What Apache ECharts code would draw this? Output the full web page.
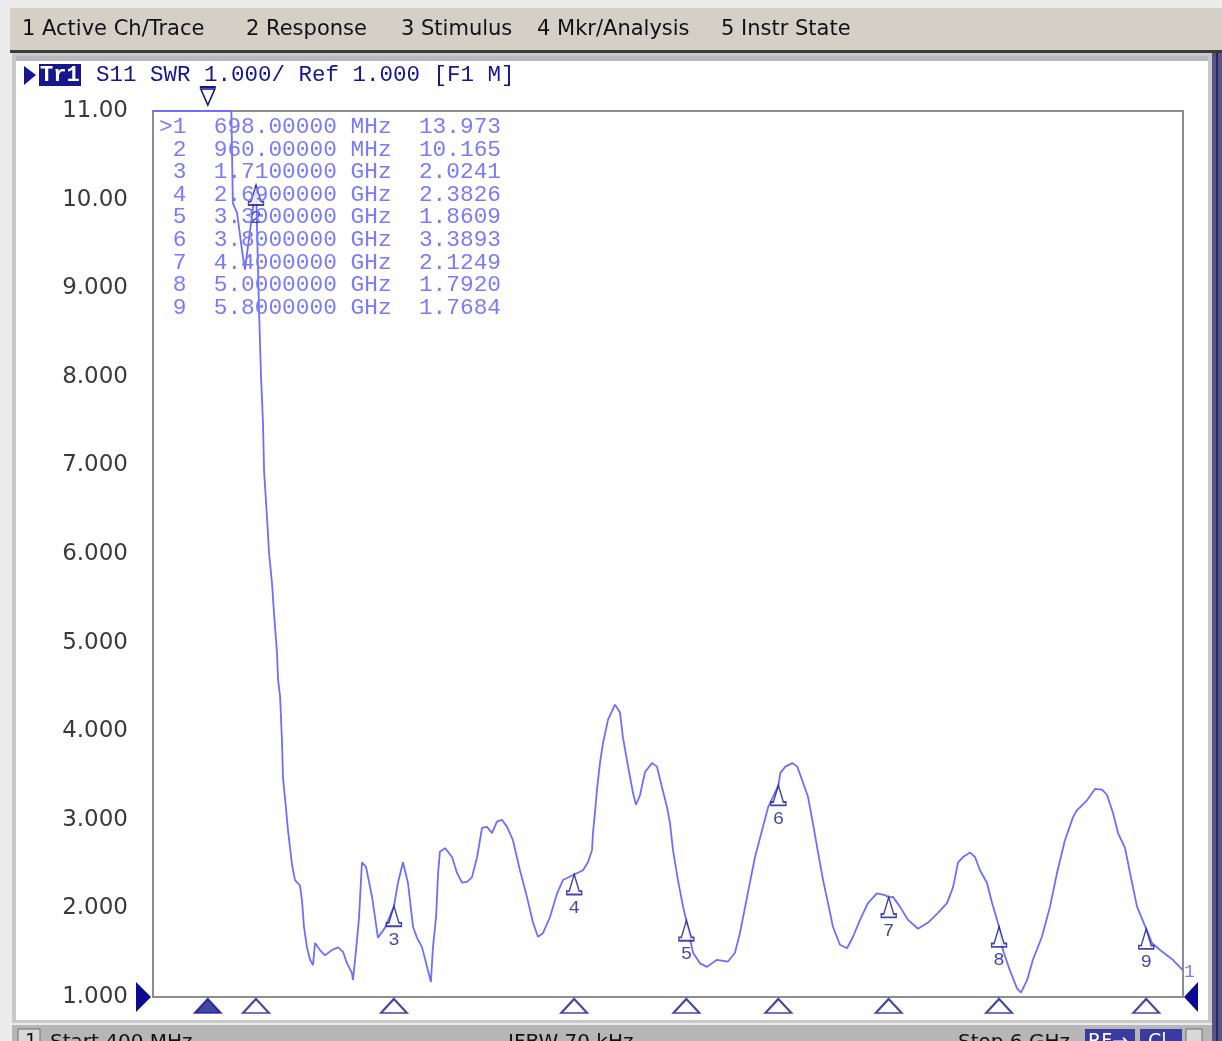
<!DOCTYPE html>
<html><head><meta charset="utf-8">
<script src="https://cdn.jsdelivr.net/npm/echarts@6/dist/echarts.min.js"></script>
<style>html,body{margin:0;padding:0;background:#ececec;overflow:hidden}#c{width:1222px;height:1041px}</style>
</head><body><div id="c"></div>
<script>
// ---- axis settings ----
const START_MHZ = 400, STOP_MHZ = 6000, DIV_MHZ = 560;
const Y_MIN = 1, Y_MAX = 11, Y_STEP = 1;
const yTickLabels = ['1.000','2.000','3.000','4.000','5.000','6.000','7.000','8.000','9.000','10.00','11.00'];

// ---- trace: S11 SWR (frequency in MHz) ----
const freqMHz = [400,550,698,800,826,834,857,873,889,900,960,976,987,998,1004,1020,1031,1047,1058,1074,1080,1091,1101,1107,1123,1134,1156,1172,1199,1210,1221,1237,1254,1270,1281,1308,1335,1373,1406,1433,1455,1482,1487,1504,1520,1536,1558,1591,1623,1661,1710,1732,1759,1786,1814,1835,1863,1890,1911,1922,1939,1950,1960,1988,2026,2053,2080,2107,2134,2162,2189,2216,2243,2270,2297,2325,2357,2395,2433,2466,2493,2520,2558,2597,2629,2690,2738,2765,2787,2792,2803,2814,2830,2847,2874,2912,2939,2955,2983,3010,3026,3048,3075,3113,3140,3167,3195,3211,3227,3254,3282,3300,3336,3374,3412,3466,3526,3564,3591,3630,3673,3711,3744,3800,3811,3838,3876,3903,3929,3961,3988,4016,4043,4070,4097,4135,4173,4206,4244,4287,4336,4380,4400,4423,4461,4505,4559,4614,4668,4717,4750,4777,4804,4842,4869,4896,4934,4962,5000,5021,5059,5097,5119,5152,5184,5233,5277,5315,5358,5402,5424,5478,5522,5560,5587,5619,5647,5685,5712,5750,5800,5831,5875,5945,6000];
const swr = [16.5,15.2,13.973,12.0,11.3,9.96,9.85,9.60,9.35,9.21,10.165,8.79,8.02,7.48,6.93,6.41,6.01,5.67,5.33,4.89,4.58,4.39,3.90,3.47,3.13,2.88,2.49,2.32,2.26,2.09,1.79,1.56,1.42,1.36,1.61,1.53,1.47,1.53,1.56,1.51,1.38,1.27,1.19,1.53,1.89,2.52,2.47,2.13,1.67,1.78,2.0241,2.29,2.52,2.29,1.79,1.67,1.56,1.34,1.17,1.56,1.90,2.40,2.64,2.68,2.58,2.40,2.29,2.30,2.35,2.58,2.91,2.92,2.85,2.98,3.00,2.92,2.77,2.43,2.13,1.84,1.68,1.72,1.90,2.17,2.32,2.3826,2.43,2.52,2.66,2.85,3.08,3.34,3.64,3.87,4.13,4.30,4.21,3.93,3.60,3.30,3.17,3.28,3.54,3.64,3.60,3.37,3.14,2.96,2.66,2.32,2.02,1.8609,1.50,1.38,1.34,1.42,1.40,1.50,1.72,2.13,2.58,2.88,3.14,3.3893,3.53,3.60,3.64,3.60,3.45,3.26,2.96,2.63,2.32,2.06,1.79,1.59,1.55,1.68,1.87,2.06,2.17,2.15,2.1249,2.13,2.02,1.87,1.77,1.84,1.95,2.06,2.24,2.52,2.58,2.63,2.58,2.43,2.29,2.06,1.7920,1.53,1.30,1.10,1.05,1.19,1.42,1.68,2.02,2.40,2.77,3.03,3.11,3.22,3.35,3.34,3.28,3.08,2.85,2.68,2.40,2.02,1.7684,1.61,1.53,1.42,1.30];

// ---- markers ----
const markerIds = [1,2,3,4,5,6,7,8,9];
const markerFreqMHz = [698,960,1710,2690,3300,3800,4400,5000,5800];
const markerSwr = [13.973,10.165,2.0241,2.3826,1.8609,3.3893,2.1249,1.7920,1.7684];
const activeMarker = 1;

// ---- texts ----
const menuItems = ['1 Active Ch/Trace','2 Response','3 Stimulus','4 Mkr/Analysis','5 Instr State'];
const menuX = [22,246,401,537,721];
const traceTitle = 'S11 SWR 1.000/ Ref 1.000 [F1 M]';
const statusTexts = ['Start 400 MHz','IFBW 70 kHz','Stop 6 GHz'];
const statusX = [50,508,958];

const NAVY = '#16168e';
const TRACE = '#6e6eff';
const MONO = '"Liberation Mono","DejaVu Sans Mono",monospace';
const UI = '"DejaVu Sans",Verdana,sans-serif';

function fmtFreq(f){ return f < 1000 ? f.toFixed(5)+' MHz' : (f/1000).toFixed(7)+' GHz'; }
const markerRows = markerIds.map((id,i)=>(id===activeMarker?'>':' ')+id+'  '+fmtFreq(markerFreqMHz[i])+'  '+markerSwr[i].toPrecision(5));

const traceData = freqMHz.map((f,i)=>[f-START_MHZ, Math.min(swr[i], Y_MAX)]);
const onScaleMarkers = [];
markerIds.forEach((id,i)=>{ if (markerSwr[i] <= Y_MAX) onScaleMarkers.push([markerFreqMHz[i]-START_MHZ, markerSwr[i], id]); });
const stimMarkers = markerIds.map((id,i)=>({value:[markerFreqMHz[i]-START_MHZ, 0.5], id:id,
  itemStyle: id===activeMarker ? {color:NAVY, borderColor:NAVY, borderWidth:2} : {color:'#ffffff', borderColor:NAVY, borderWidth:2}}));

const GL = 153, GT = 111, GW = 1030, GH = 886;

const chart = echarts.init(document.getElementById('c'), null, {renderer:'canvas'});
const glyph = 'path://M7.5,0 L2.5,15 L0,15 L0,18 L15,18 L15,15 L12.5,15 Z';

const option = {
  animation:false,
  backgroundColor:'#ececec',
  grid:[
    {left:GL, top:GT, width:GW, height:GH, show:true, borderColor:'#8e8e8e', borderWidth:2, backgroundColor:'rgba(0,0,0,0)', z:3},
    {left:GL, top:999, width:GW, height:14, show:false}
  ],
  xAxis:[
    {type:'value', gridIndex:0, min:0, max:STOP_MHZ-START_MHZ, interval:DIV_MHZ,
     axisLabel:{show:false}, axisTick:{show:false}, axisLine:{show:false},
     splitLine:{show:true, lineStyle:{color:'#cfcfcf', width:2}}},
    {type:'value', gridIndex:1, min:0, max:STOP_MHZ-START_MHZ, show:false, splitLine:{show:false}}
  ],
  yAxis:[
    {type:'value', gridIndex:0, min:Y_MIN, max:Y_MAX, interval:Y_STEP,
     axisLine:{show:false}, axisTick:{show:false},
     splitLine:{show:true, lineStyle:{color:'#cfcfcf', width:2}},
     axisLabel:{margin:25, color:'#3a3a3a', fontFamily:UI, fontSize:23,
       formatter:v=>yTickLabels[Math.round((v-Y_MIN)/Y_STEP)]}},
    {type:'value', gridIndex:1, min:0, max:1, show:false, splitLine:{show:false}}
  ],
  series:[
    {type:'line', xAxisIndex:0, yAxisIndex:0, data:traceData, showSymbol:false, symbol:'none',
     lineStyle:{color:TRACE, width:1.8}, clip:true, z:4},
    {type:'scatter', xAxisIndex:0, yAxisIndex:0, data:onScaleMarkers, symbol:glyph, symbolSize:[15,20],
     symbolOffset:[0,'50%'], itemStyle:{color:'#ffffff', borderColor:NAVY, borderWidth:1.6}, z:6,
     label:{show:true, position:'bottom', distance:0, offset:[0,3], formatter:p=>String(p.data[2]), color:NAVY,
       fontFamily:MONO, fontSize:19}},
    {type:'scatter', xAxisIndex:1, yAxisIndex:1, data:stimMarkers, symbol:'triangle', symbolSize:[26,14], z:6}
  ]
};
chart.setOption(option);

// decorations (UI chrome) ----------------------------------------------
const g = [];
g.push({type:'rect', shape:{x:10,y:8,width:1212,height:42}, style:{fill:'#d4d0c8'}, z:0});
g.push({type:'rect', shape:{x:10,y:50,width:1212,height:3}, style:{fill:'#3c3c3c'}, z:0});
g.push({type:'rect', shape:{x:12,y:53,width:1200,height:970}, style:{fill:'#c8c8c8'}, z:0});
g.push({type:'rect', shape:{x:16,y:56,width:1192,height:964}, style:{fill:'#ffffff'}, z:0});
g.push({type:'rect', shape:{x:16,y:56,width:1192,height:5}, style:{fill:'#b8b8b8'}, z:0});
g.push({type:'rect', shape:{x:1212,y:53,width:10,height:988}, style:{fill:'#55558c'}, z:0});
g.push({type:'rect', shape:{x:1216,y:53,width:2,height:988}, style:{fill:'#2a2a50'}, z:0});
g.push({type:'rect', shape:{x:12,y:1025,width:1200,height:16}, style:{fill:'#b6b6b6'}, z:0});
menuItems.forEach((t,i)=>g.push({type:'text', x:menuX[i], y:30, style:{text:t, fill:'#111', font:'21px '+UI, textVerticalAlign:'middle'}, z:1}));
// status bar texts (cut by bottom edge)
g.push({type:'rect', shape:{x:18,y:1029,width:22,height:16}, style:{fill:'#d8d8d8', stroke:'#707070'}, z:1});
g.push({type:'text', x:25, y:1033, style:{text:'1', fill:'#111', font:'19px '+UI}, z:2});
statusTexts.forEach((t,i)=>g.push({type:'text', x:statusX[i], y:1033, style:{text:t, fill:'#111', font:'20px '+UI}, z:2}));
g.push({type:'rect', shape:{x:1085,y:1029,width:50,height:16}, style:{fill:'#3a3aa0'}, z:1});
g.push({type:'text', x:1088, y:1033, style:{text:'RF\u2192', fill:'#fff', font:'19px '+UI}, z:2});
g.push({type:'rect', shape:{x:1140,y:1029,width:42,height:16}, style:{fill:'#3a3aa0'}, z:1});
g.push({type:'text', x:1148, y:1033, style:{text:'Cl', fill:'#fff', font:'19px '+UI}, z:2});
g.push({type:'rect', shape:{x:1186,y:1029,width:16,height:16}, style:{fill:'#d8d8d8', stroke:'#707070'}, z:1});
// trace title
g.push({type:'polygon', shape:{points:[[24,66],[36,75],[24,85]]}, style:{fill:NAVY}, z:5});
g.push({type:'rect', shape:{x:39,y:64,width:42,height:22}, style:{fill:NAVY}, z:5});
g.push({type:'text', x:40, y:75, style:{text:'Tr1', fill:'#fff', font:'bold 22px '+MONO, textVerticalAlign:'middle'}, z:6});
g.push({type:'text', x:96, y:75, style:{text:traceTitle, fill:NAVY, font:'22.5px '+MONO, textVerticalAlign:'middle'}, z:6});
// marker table
markerRows.forEach((r,i)=>g.push({type:'text', x:159, y:127+i*22.6, style:{text:r, fill:'#7a7aff', font:'22.8px '+MONO, textVerticalAlign:'middle'}, z:7}));

// scale-based decorations
const pRef = chart.convertToPixel({gridIndex:0}, [0, Y_MIN]);
const pEnd = chart.convertToPixel({gridIndex:0}, [STOP_MHZ-START_MHZ, Y_MIN]);
const pLast = chart.convertToPixel({gridIndex:0}, traceData[traceData.length-1]);
g.push({type:'polygon', shape:{points:[[pRef[0]-17,pRef[1]-15],[pRef[0]-2,pRef[1]],[pRef[0]-17,pRef[1]+15]]}, style:{fill:'#0a0a90'}, z:8});
g.push({type:'polygon', shape:{points:[[pEnd[0]+15,pEnd[1]-15],[pEnd[0]+1,pEnd[1]],[pEnd[0]+15,pEnd[1]+15]]}, style:{fill:'#0a0a90'}, z:8});
g.push({type:'text', x:pLast[0]+1, y:pLast[1]+2, style:{text:'1', fill:'#7a7aff', font:'18px '+MONO, textVerticalAlign:'middle'}, z:8});
markerIds.forEach((id,i)=>{
  if (markerSwr[i] > Y_MAX) {
    const p = chart.convertToPixel({gridIndex:0}, [markerFreqMHz[i]-START_MHZ, Y_MAX]);
    g.push({type:'polygon', shape:{points:[[p[0]-7,p[1]-22],[p[0]+7,p[1]-22],[p[0],p[1]-6]]}, style:{fill:'#fff', stroke:NAVY, lineWidth:1.6}, z:8});
    g.push({type:'line', shape:{x1:p[0]-8,y1:p[1]-24,x2:p[0]+8,y2:p[1]-24}, style:{stroke:NAVY, lineWidth:2}, z:8});
  }
});
chart.setOption({graphic:g});
</script></body></html>
